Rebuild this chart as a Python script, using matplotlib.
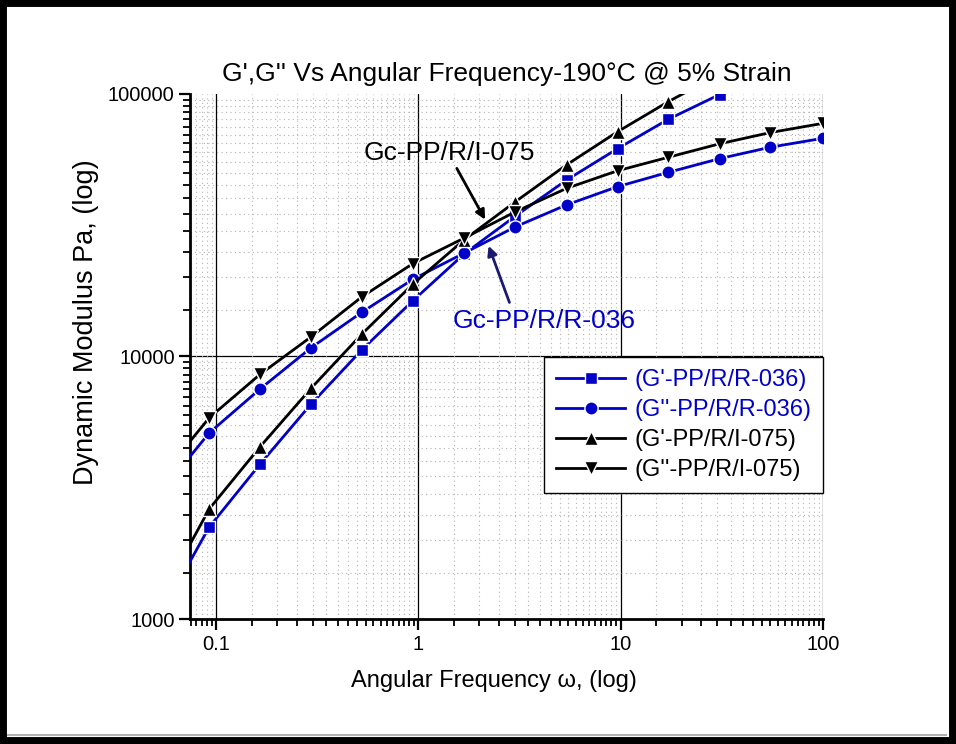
import matplotlib
matplotlib.use("Agg")
import matplotlib.pyplot as plt
import numpy as np
from matplotlib.patches import Rectangle
from matplotlib.lines import Line2D
from matplotlib.ticker import FixedLocator, FixedFormatter, LogLocator, NullFormatter

# angular frequency (rad/s), first value sits just left of the axis window
freq = [0.052, 0.0925, 0.165, 0.295, 0.525, 0.94, 1.69, 3.02, 5.4, 9.65, 17.2, 30.8, 55.0, 100.0]

# PP/R/R-036
g1_r036 = [1010, 2240, 3890, 6590, 10590, 16320, 24640, 34300, 47000, 61900, 80100, 99500]
g2_r036 = [2965, 5115, 7520, 10800, 14730, 19690, 24800, 31200, 37800, 44360, 50300, 56700, 62700, 67800]
# PP/R/I-075
g1_i075 = [1160, 2625, 4530, 7570, 12160, 18880, 27900, 38900, 53700, 71800, 93500, 119000]
g2_i075 = [3390, 5840, 8550, 11880, 16860, 22600, 28300, 35600, 43700, 51000, 57400, 64600, 71300, 77300]

series_labels = ["(G'-PP/R/R-036)", "(G''-PP/R/R-036)", "(G'-PP/R/I-075)", "(G''-PP/R/I-075)"]

BLUE = "#0000c8"
plt.rcParams["font.family"] = ["Liberation Sans", "DejaVu Sans"]

fig = plt.figure(figsize=(9.56, 7.44), dpi=100)
ax = fig.add_axes([0.1987, 0.168, 0.6622, 0.7057])

styles = [
    (g1_r036, BLUE, "s", 8.5),
    (g2_r036, BLUE, "o", 9.5),
    (g1_i075, "black", "^", 10),
    (g2_i075, "black", "v", 10),
]
for (vals, col, mk, ms), lab in zip(styles, series_labels):
    ax.plot(freq[:len(vals)], vals, color=col, lw=2, marker=mk, ms=ms,
            mfc=col, mec="white", mew=1.0, label=lab, zorder=4)

ax.set_xscale("log")
ax.set_yscale("log")
ax.set_xlim(0.0743, 100)
ax.set_ylim(1000, 100000)

ax.xaxis.set_major_locator(FixedLocator([0.1, 1, 10, 100]))
ax.xaxis.set_major_formatter(FixedFormatter(["0.1", "1", "10", "100"]))
ax.yaxis.set_major_locator(FixedLocator([1000, 10000, 100000]))
ax.yaxis.set_major_formatter(FixedFormatter(["1000", "10000", "100000"]))
subs = np.arange(1.5, 10, 0.5)
ax.xaxis.set_minor_locator(LogLocator(base=10, subs=subs, numticks=20))
ax.yaxis.set_minor_locator(LogLocator(base=10, subs=subs, numticks=20))
ax.xaxis.set_minor_formatter(NullFormatter())
ax.yaxis.set_minor_formatter(NullFormatter())

ax.tick_params(which="major", direction="out", length=8, width=1.6, labelsize=14.5)
ax.tick_params(which="minor", direction="out", length=5, width=1.3)
ax.tick_params(axis="y", which="major", pad=3)

for s in ["top", "right"]:
    ax.spines[s].set_visible(False)
for s in ["left", "bottom"]:
    ax.spines[s].set_linewidth(2)

ax.grid(which="minor", color="#b4b4b4", lw=0.8, ls=(0, (1, 3)))
for xv in [0.1, 1, 10, 100]:
    ax.axvline(xv, color="black", lw=0.9, zorder=1)
ax.axhline(10000, color="black", lw=0.9, zorder=1)

ax.set_title("G',G'' Vs Angular Frequency-190°C @ 5% Strain", fontsize=19, pad=9)
ax.set_xlabel("Angular Frequency ω, (log)", fontsize=17)
ax.xaxis.set_label_coords(0.48, -0.098)
ax.set_ylabel("Dynamic Modulus Pa, (log)", fontsize=19.5)
ax.yaxis.set_label_coords(-0.143, 0.565)

# crossover annotations
ax.text(1.42, 59600, "Gc-PP/R/I-075", fontsize=19, ha="center", va="center", color="black")
ax.annotate("", xy=(2.17, 32500), xytext=(1.525, 53200),
            arrowprops=dict(arrowstyle="-|>", color="black", lw=2, mutation_scale=14))
ax.text(4.16, 13650, "Gc-PP/R/R-036", fontsize=19, ha="center", va="center", color=BLUE)
ax.annotate("", xy=(2.2, 27000), xytext=(2.85, 15700),
            arrowprops=dict(arrowstyle="-|>", color="#1a1a70", lw=2, mutation_scale=14))

leg = ax.legend(loc="upper right", bbox_to_anchor=(1.0, 0.499), fontsize=17,
                frameon=True, fancybox=False, edgecolor="black", framealpha=1,
                handlelength=2.9, handletextpad=0.4, borderpad=0.5, labelspacing=0.34,
                borderaxespad=0, labelcolor=[BLUE, BLUE, "black", "black"])
leg.get_frame().set_linewidth(1.0)
leg.set_zorder(6)

# page frame
fig.patches.append(Rectangle((0, 0), 1, 1, transform=fig.transFigure, fill=False,
                             edgecolor="black", lw=10, zorder=10))
fig.lines.append(Line2D([0.008, 0.99], [0.0115, 0.0115], transform=fig.transFigure,
                        color="#b0b0b0", lw=1.5))

fig.savefig("out.png", dpi=100)
